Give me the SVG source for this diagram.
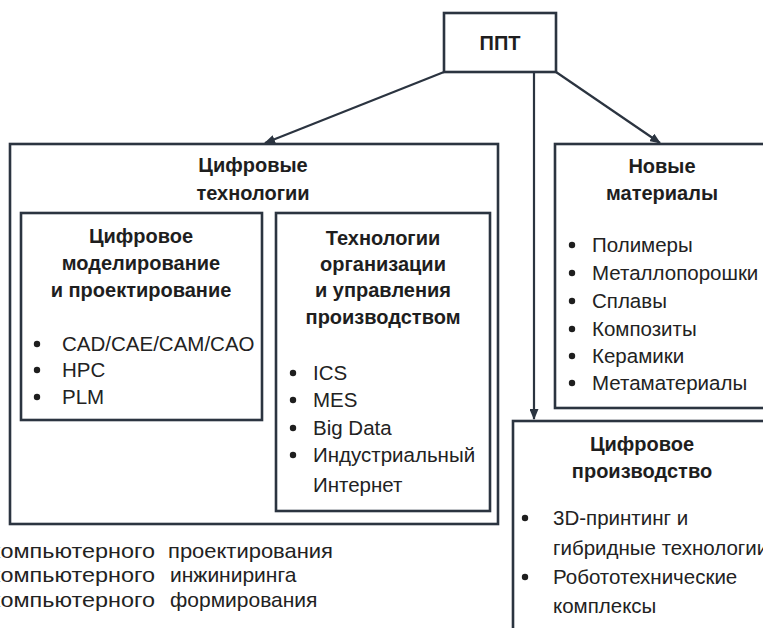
<svg xmlns="http://www.w3.org/2000/svg" width="763" height="628" viewBox="0 0 763 628">
  <style>
    .box { fill: #ffffff; stroke: #2b3440; stroke-width: 2.6; }
    .link { fill: none; stroke: #2b3440; stroke-width: 2.2; }
    .title { font-family: "Liberation Sans", Arial, sans-serif; font-size: 20px; font-weight: bold; fill: #1e1e1e; text-anchor: middle; }
    .item { font-family: "Liberation Sans", Arial, sans-serif; font-size: 20.5px; fill: #222222; }
    .note { font-family: "Liberation Sans", Arial, sans-serif; font-size: 21px; fill: #222222; }
    .dot { fill: #1e1e1e; }
  </style>
  <defs>
    <marker id="arrow" markerUnits="userSpaceOnUse" markerWidth="11" markerHeight="9" refX="10" refY="4.5" orient="auto">
      <path d="M0,0 L11,4.5 L0,9 z" fill="#2b3440"/>
    </marker>
  </defs>
  <rect width="763" height="628" fill="#ffffff"/>

  <!-- connectors from the root node -->
  <g id="connectors">
    <line class="link" x1="444" y1="72" x2="265" y2="143" marker-end="url(#arrow)"/>
    <line class="link" x1="556" y1="72" x2="660" y2="143" marker-end="url(#arrow)"/>
    <line class="link" x1="534" y1="72" x2="534" y2="419" marker-end="url(#arrow)"/>
  </g>

  <!-- root -->
  <g id="root">
    <rect class="box" x="444" y="13" width="112" height="59"/>
    <text class="title" x="500" y="50">ППТ</text>
  </g>

  <!-- digital technologies, with two nested groups -->
  <g id="digital-tech">
    <rect class="box" x="10" y="144" width="488" height="380"/>
    <text class="title" x="253" y="172">Цифровые</text>
    <text class="title" x="253" y="200">технологии</text>
  </g>

  <g id="modeling">
    <rect class="box" x="21" y="213" width="241" height="207"/>
    <text class="title" x="141" y="243">Цифровое</text>
    <text class="title" x="141" y="270">моделирование</text>
    <text class="title" x="141" y="297">и проектирование</text>
    <circle class="dot" cx="37" cy="344" r="3.2"/>
    <circle class="dot" cx="37" cy="370" r="3.2"/>
    <circle class="dot" cx="37" cy="397" r="3.2"/>
    <text class="item" x="62" y="351">CAD/CAE/CAM/CAO</text>
    <text class="item" x="62" y="377">HPC</text>
    <text class="item" x="62" y="404">PLM</text>
  </g>

  <g id="production-management">
    <rect class="box" x="276" y="213" width="214" height="298"/>
    <text class="title" x="383" y="245">Технологии</text>
    <text class="title" x="383" y="271">организации</text>
    <text class="title" x="383" y="297">и управления</text>
    <text class="title" x="383" y="324">производством</text>
    <circle class="dot" cx="293" cy="373" r="3.2"/>
    <circle class="dot" cx="293" cy="400" r="3.2"/>
    <circle class="dot" cx="293" cy="428" r="3.2"/>
    <circle class="dot" cx="293" cy="455" r="3.2"/>
    <text class="item" x="313" y="380">ICS</text>
    <text class="item" x="313" y="407">MES</text>
    <text class="item" x="313" y="435">Big Data</text>
    <text class="item" x="313" y="462">Индустриальный</text>
    <text class="item" x="313" y="492">Интернет</text>
  </g>

  <!-- new materials -->
  <g id="materials">
    <rect class="box" x="555" y="144" width="220" height="264"/>
    <text class="title" x="662" y="173">Новые</text>
    <text class="title" x="662" y="200">материалы</text>
    <circle class="dot" cx="572" cy="245" r="3.2"/>
    <circle class="dot" cx="572" cy="273" r="3.2"/>
    <circle class="dot" cx="572" cy="301" r="3.2"/>
    <circle class="dot" cx="572" cy="329" r="3.2"/>
    <circle class="dot" cx="572" cy="356" r="3.2"/>
    <circle class="dot" cx="572" cy="383" r="3.2"/>
    <text class="item" x="592" y="252">Полимеры</text>
    <text class="item" x="592" y="280">Металлопорошки</text>
    <text class="item" x="592" y="308">Сплавы</text>
    <text class="item" x="592" y="336">Композиты</text>
    <text class="item" x="592" y="363">Керамики</text>
    <text class="item" x="592" y="390">Метаматериалы</text>
  </g>

  <!-- digital production -->
  <g id="digital-production">
    <rect class="box" x="513" y="421" width="270" height="230"/>
    <text class="title" x="642" y="451">Цифровое</text>
    <text class="title" x="642" y="478">производство</text>
    <circle class="dot" cx="525" cy="518" r="3.2"/>
    <circle class="dot" cx="525" cy="577" r="3.2"/>
    <text class="item" x="553" y="525">3D-принтинг и</text>
    <text class="item" x="553" y="555">гибридные технологии</text>
    <text class="item" x="553" y="584">Робототехнические</text>
    <text class="item" x="553" y="613">комплексы</text>
  </g>

  <!-- trailing notes below the diagram -->
  <g id="notes">
    <text class="note" x="-10" y="558" textLength="165" lengthAdjust="spacingAndGlyphs">компьютерного</text>
    <text class="note" x="168" y="558" textLength="165" lengthAdjust="spacingAndGlyphs">проектирования</text>
    <text class="note" x="-10" y="582" textLength="165" lengthAdjust="spacingAndGlyphs">компьютерного</text>
    <text class="note" x="170" y="582">инжиниринга</text>
    <text class="note" x="-10" y="607" textLength="165" lengthAdjust="spacingAndGlyphs">компьютерного</text>
    <text class="note" x="170" y="607">формирования</text>
  </g>
</svg>
